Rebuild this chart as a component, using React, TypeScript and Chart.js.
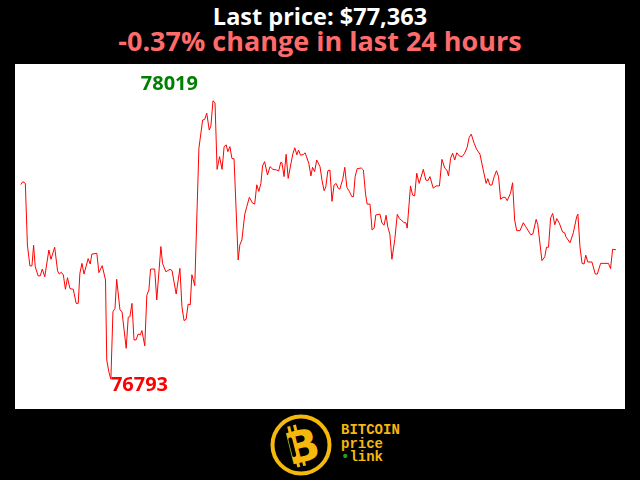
import { useEffect, useRef } from 'react'
import { Chart, registerables } from 'chart.js'

Chart.register(...registerables)

// minutes since the start of the 24h window
const minutes = [
  0, 5, 11, 16, 22, 27, 31, 35, 42, 47, 52, 58, 68, 73, 82, 89, 93, 98, 103, 108,
  113, 119, 127, 134, 139, 143, 148, 153, 163, 168, 172, 184, 189, 197, 205, 208, 213, 218, 223, 228,
  232, 240, 245, 255, 260, 264, 269, 274, 279, 284, 289, 293, 300, 305, 310, 314, 324, 329, 339, 343,
  351, 361, 366, 376, 385, 390, 395, 400, 405, 410, 414, 421, 431, 440, 445, 450, 456, 460, 465, 470,
  475, 481, 487, 492, 497, 501, 506, 511, 516, 526, 530, 535, 542, 547, 553, 561, 566, 571, 576, 581,
  585, 590, 597, 603, 610, 619, 624, 629, 632, 637, 642, 647, 653, 658, 663, 668, 672, 677, 684, 688,
  697, 702, 706, 711, 716, 724, 729, 734, 738, 743, 748, 753, 758, 763, 768, 772, 779, 784, 789, 795,
  801, 805, 809, 814, 824, 829, 834, 838, 845, 850, 855, 859, 869, 874, 879, 884, 888, 893, 898, 905,
  911, 916, 921, 927, 932, 935, 943, 948, 953, 958, 964, 974, 980, 985, 990, 998, 1005, 1013, 1019, 1026,
  1031, 1035, 1040, 1045, 1050, 1055, 1061, 1068, 1074, 1080, 1085, 1090, 1097, 1103, 1111, 1119, 1126, 1130, 1135, 1140,
  1145, 1151, 1156, 1161, 1167, 1172, 1177, 1185, 1190, 1195, 1200, 1208, 1216, 1222, 1234, 1239, 1247, 1251, 1261, 1268,
  1272, 1277, 1282, 1287, 1292, 1297, 1303, 1311, 1316, 1319, 1329, 1337, 1345, 1348, 1353, 1358, 1363, 1367, 1372, 1382,
  1390, 1395, 1403, 1411, 1422, 1427, 1432, 1440,
]

// BTC price in USD
const prices = [
  77650, 77663, 77655, 77384, 77292, 77292, 77383, 77288, 77248, 77248, 77278, 77244, 77362, 77321, 77374, 77270, 77256, 77264, 77252, 77189,
  77240, 77192, 77189, 77127, 77127, 77259, 77303, 77256, 77324, 77300, 77344, 77347, 77262, 77293, 77230, 76878, 76826, 76793, 77090, 77105,
  77233, 77098, 77090, 76929, 77066, 77068, 77127, 76966, 76966, 76992, 76988, 77007, 76940, 77163, 77186, 77278, 77278, 77142, 77377, 77303,
  77266, 77277, 77271, 77168, 77281, 77112, 77051, 77057, 77124, 77120, 77253, 77205, 77810, 77934, 77937, 77964, 77890, 77908, 78019, 78010,
  77717, 77773, 77717, 77817, 77825, 77795, 77817, 77764, 77764, 77318, 77384, 77406, 77520, 77553, 77594, 77568, 77564, 77649, 77620, 77655,
  77732, 77751, 77692, 77729, 77717, 77714, 77710, 77748, 77746, 77685, 77783, 77677, 77736, 77783, 77812, 77781, 77802, 77779, 77783, 77790,
  77743, 77688, 77726, 77707, 77758, 77729, 77667, 77623, 77640, 77711, 77714, 77576, 77648, 77655, 77634, 77630, 77673, 77726, 77638, 77620,
  77597, 77597, 77685, 77720, 77723, 77714, 77612, 77564, 77564, 77450, 77458, 77516, 77520, 77480, 77471, 77515, 77464, 77432, 77321, 77409,
  77519, 77500, 77494, 77482, 77482, 77458, 77644, 77604, 77600, 77700, 77655, 77717, 77670, 77667, 77685, 77634, 77644, 77644, 77761, 77722,
  77714, 77688, 77766, 77788, 77758, 77790, 77776, 77773, 77788, 77814, 77858, 77872, 77832, 77805, 77784, 77714, 77655, 77676, 77648, 77648,
  77682, 77711, 77685, 77585, 77594, 77594, 77579, 77612, 77658, 77494, 77447, 77447, 77482, 77464, 77429, 77432, 77497, 77473, 77315, 77332,
  77374, 77374, 77503, 77523, 77473, 77500, 77480, 77441, 77438, 77420, 77394, 77438, 77508, 77520, 77377, 77303, 77300, 77339, 77309, 77309,
  77256, 77256, 77303, 77303, 77303, 77280, 77365, 77363,
]

const lastPrice = prices[prices.length - 1]
const changePct = ((lastPrice - prices[0]) / prices[0]) * 100

const extremeLabels = {
  id: 'extremeLabels',
  afterDatasetsDraw(chart: Chart) {
    const meta = chart.getDatasetMeta(0)
    const hi = Math.max(...prices)
    const lo = Math.min(...prices)
    const hiPt = meta.data[prices.indexOf(hi)]
    const loPt = meta.data[prices.indexOf(lo)]
    const ctx = chart.ctx
    ctx.save()
    ctx.font = 'bold 20px "Open Sans"'
    ctx.textBaseline = 'alphabetic'
    ctx.fillStyle = '#008000'
    ctx.textAlign = 'right'
    ctx.fillText(String(hi), hiPt.x - 15, hiPt.y - 11)
    ctx.fillStyle = '#ff0000'
    ctx.textAlign = 'left'
    ctx.fillText(String(lo), loPt.x, loPt.y + 12)
    ctx.restore()
  },
}

function PriceChart() {
  const canvasRef = useRef<HTMLCanvasElement>(null)
  const chartRef = useRef<Chart | null>(null)

  useEffect(() => {
    if (!canvasRef.current) return
    const hi = Math.max(...prices)
    const lo = Math.min(...prices)
    const range = hi - lo
    chartRef.current = new Chart(canvasRef.current, {
      type: 'line',
      data: {
        datasets: [{
          data: minutes.map((m, i) => ({ x: m, y: prices[i] })),
          borderColor: '#ff0000',
          borderWidth: 1,
          pointRadius: 0,
          tension: 0,
          fill: false,
        }],
      },
      options: {
        responsive: true,
        maintainAspectRatio: false,
        animation: false,
        layout: { padding: 0 },
        plugins: {
          legend: { display: false },
          tooltip: { enabled: false },
        },
        scales: {
          x: { type: 'linear', display: false, min: -14, max: 1462 },
          y: { display: false, min: lo - range * 0.107, max: hi + range * 0.132 },
        },
      },
      plugins: [extremeLabels],
    })
    return () => {
      chartRef.current?.destroy()
      chartRef.current = null
    }
  }, [])

  return (
    <div style={{ position: 'absolute', left: 15, top: 64, width: 610, height: 345, background: '#ffffff' }}>
      <canvas ref={canvasRef} />
    </div>
  )
}

function Logo() {
  const gold = '#f5b80c'
  return (
    <div style={{ position: 'absolute', left: 270, top: 414, width: 140, height: 64 }}>
      <svg width="64" height="64" viewBox="0 0 64 64" style={{ position: 'absolute', left: 0, top: 0 }}>
        <circle cx="31" cy="31" r="28.5" fill="none" stroke={gold} strokeWidth="4" />
        <g transform="rotate(-14 31 31)">
          <rect x="22" y="10" width="3" height="8" fill={gold} />
          <rect x="28" y="10" width="3" height="8" fill={gold} />
          <rect x="22" y="44" width="3" height="8" fill={gold} />
          <rect x="28" y="44" width="3" height="8" fill={gold} />
          <text x="32" y="48" textAnchor="middle" fontFamily="DejaVu Sans" fontWeight="bold" fontSize="44" fill={gold}>B</text>
          <rect x="20" y="21" width="4" height="20" rx="2" fill="#000" />
        </g>
      </svg>
      <div style={{
        position: 'absolute', left: 71, top: 10, fontFamily: '"Liberation Mono", monospace', fontWeight: 'bold',
        fontSize: 14, lineHeight: '13.5px', color: gold, whiteSpace: 'pre',
      }}>
        <div>BITCOIN</div>
        <div>price</div>
        <div><span style={{ color: '#22a022' }}>•</span>link</div>
      </div>
    </div>
  )
}

export default function App() {
  useEffect(() => {
    document.body.style.margin = '0'
    document.body.style.background = '#000000'
  }, [])

  return (
    <div style={{ position: 'fixed', left: 0, top: 0, width: 640, height: 480, background: '#000000', overflow: 'hidden' }}>
      <div style={{
        position: 'absolute', left: 0, top: 4, width: 640, textAlign: 'center', color: '#ffffff',
        fontFamily: '"Open Sans", sans-serif', fontWeight: 'bold', fontSize: 23.5, lineHeight: '24px',
      }}>
        Last price: ${lastPrice.toLocaleString('en-US')}
      </div>
      <div style={{
        position: 'absolute', left: 0, top: 27, width: 640, textAlign: 'center', color: '#ff6b6b',
        fontFamily: '"Open Sans", sans-serif', fontWeight: 'bold', fontSize: 27, lineHeight: '28px',
      }}>
        {changePct.toFixed(2)}% change in last 24 hours
      </div>
      <PriceChart />
      <Logo />
    </div>
  )
}
